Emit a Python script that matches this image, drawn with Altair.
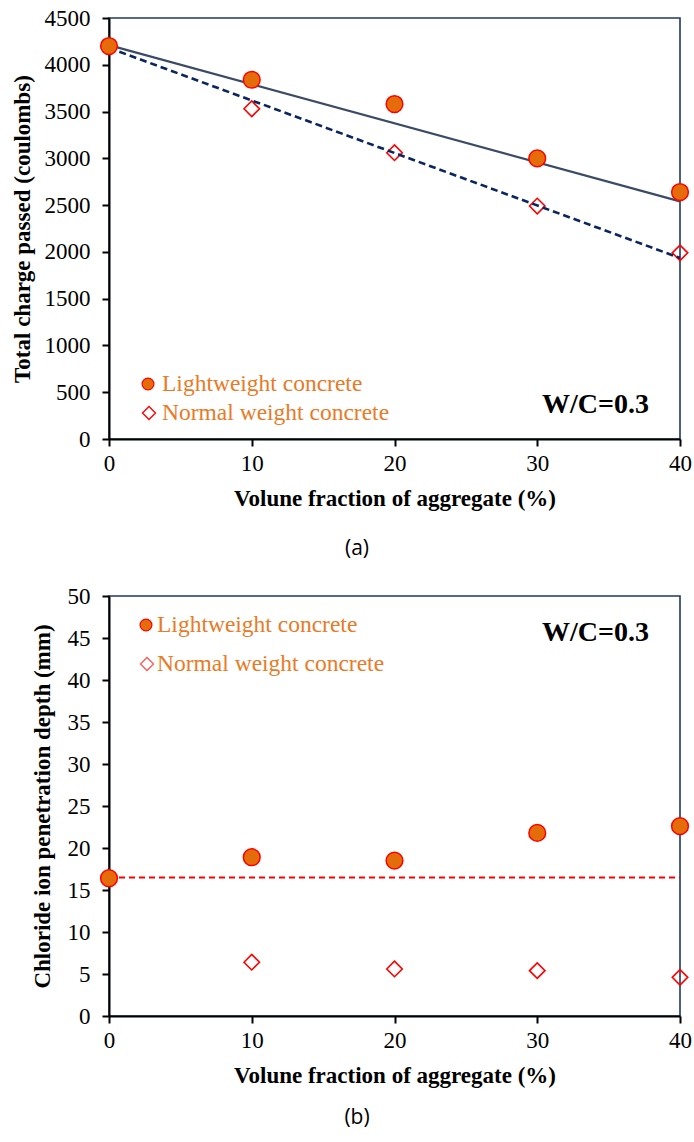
import altair as alt
import pandas as pd

# ---- data ----
frac = [0, 10, 20, 30, 40]
charge_lw = [4200, 3840, 3580, 3000, 2640]
charge_nw = [4200, 3530, 3060, 2490, 1990]
trend_x = [0, 40]
trend_lw = [4210, 2540]
trend_nw = [4180, 1935]
depth_lw = [16.4, 18.9, 18.5, 21.8, 22.6]
depth_nw = [16.4, 6.4, 5.6, 5.4, 4.6]
ref_depth = [16.5, 16.5]
x_ticks = [0, 10, 20, 30, 40]
charge_ticks = list(range(0, 4501, 500))
depth_ticks = list(range(0, 51, 5))
legend_labels = ["Lightweight concrete", "Normal weight concrete"]
wc_label = ["W/C=0.3"]
captions = ["(a)", "(b)"]
x_title = "Volune fraction of aggregate (%)"
y_titles = ["Total charge passed (coulombs)", "Chloride ion penetration depth (mm)"]

SERIF = "Times New Roman, Liberation Serif, serif"
ORANGE = "#E46C0A"
TXT_OR = "#E97A26"
RED = "#FF0000"
NAVY = "#1F3864"
W = 571


def x_enc():
    return alt.X("frac:Q", scale=alt.Scale(domain=[0, 40], nice=False),
                 axis=alt.Axis(values=x_ticks, title=x_title, titlePadding=12, format="d",
                               labelFlush=False, labelFont=SERIF, titleFont=SERIF))


def y_axis(title, ticks, tx):
    return alt.Axis(values=ticks, title=title, titleX=tx, titleAngle=-90, format="d",
                    labelFlush=False, labelFont=SERIF, titleFont=SERIF)


def panel(df, lw_col, nw_col, y_dom, ticks, ytitle, tx, H, lines, leg, wc_y, cap, cap_y):
    y_scale = alt.Scale(domain=y_dom, nice=False)
    base = alt.Chart(df)
    dia = base.mark_point(shape="diamond", size=240, filled=False, stroke=RED, strokeWidth=1.6, opacity=1).encode(
        x=x_enc(), y=alt.Y(f"{nw_col}:Q", scale=y_scale, axis=y_axis(ytitle, ticks, tx)))
    cir = base.mark_circle(size=280, color=ORANGE, stroke=RED, strokeWidth=1.5, opacity=1).encode(
        x="frac:Q", y=f"{lw_col}:Q")
    layers = [dia] + lines + [cir]
    # legend
    mx, tx0, y1, y2, dstroke = leg
    l1 = alt.Chart(pd.DataFrame({"t": [legend_labels[0]]}))
    l2 = alt.Chart(pd.DataFrame({"t": [legend_labels[1]]}))
    layers += [
        l1.mark_circle(size=140, color=ORANGE, stroke=RED, strokeWidth=1.2, opacity=1).encode(
            x=alt.value(mx), y=alt.value(y1)),
        l2.mark_point(shape="diamond", size=170, filled=False, stroke=dstroke, strokeWidth=1.3, opacity=1).encode(
            x=alt.value(mx + 1), y=alt.value(y2)),
        l1.mark_text(align="left", baseline="middle", font=SERIF, fontSize=23.5, color=TXT_OR).encode(
            text="t:N", x=alt.value(tx0), y=alt.value(y1)),
        l2.mark_text(align="left", baseline="middle", font=SERIF, fontSize=23.5, color=TXT_OR).encode(
            text="t:N", x=alt.value(tx0), y=alt.value(y2)),
        alt.Chart(pd.DataFrame({"t": wc_label})).mark_text(
            align="right", baseline="middle", font=SERIF, fontSize=28, fontWeight="bold", color="black").encode(
            text="t:N", x=alt.value(540), y=alt.value(wc_y)),
        alt.Chart(pd.DataFrame({"t": [cap]})).mark_text(
            align="center", baseline="middle", font="Open Sans", fontSize=21, color="black").encode(
            text="t:N", x=alt.value(248), y=alt.value(cap_y)),
    ]
    return alt.layer(*layers).properties(width=W, height=H)


df_a = pd.DataFrame({"frac": frac, "lw": charge_lw, "nw": charge_nw})
df_ta = pd.DataFrame({"frac": trend_x, "lw": trend_lw, "nw": trend_nw})
lines_a = [
    alt.Chart(df_ta).mark_line(color="#3B4A66", strokeWidth=2.2).encode(x="frac:Q", y="lw:Q"),
    alt.Chart(df_ta).mark_line(color="#0B2560", strokeWidth=2.6, strokeDash=[7, 4]).encode(x="frac:Q", y="nw:Q"),
]
chart_a = panel(df_a, "lw", "nw", [0, 4500], charge_ticks, y_titles[0], -75, 421, lines_a,
                (39, 53, 366, 395, RED), 387, captions[0], 531)

df_b = pd.DataFrame({"frac": frac, "lw": depth_lw, "nw": depth_nw})
df_rb = pd.DataFrame({"frac": trend_x, "ref": ref_depth})
lines_b = [
    alt.Chart(df_rb).mark_line(color=RED, strokeWidth=2, strokeDash=[6, 4]).encode(x="frac:Q", y="ref:Q"),
]
chart_b = panel(df_b, "lw", "nw", [0, 50], depth_ticks, y_titles[1], -55, 420, lines_b,
                (37, 48, 29, 68, "#FF5A5A"), 37, captions[1], 522)

chart = alt.vconcat(chart_a, chart_b, spacing=24).properties(
    padding={"left": 10, "top": 6, "right": 0, "bottom": 0}
).configure_view(stroke=NAVY, strokeWidth=1.6).configure_axis(
    grid=False, domainColor="black", domainWidth=2, tickColor="black", tickWidth=2, tickSize=7,
    labelFontSize=23, labelColor="black", labelPadding=6,
    titleFontSize=23, titleFontWeight="bold", titleColor="black"
).configure_axisY(labelPadding=12)

chart.save("out.html", embed_options={"renderer": "svg", "actions": False})
